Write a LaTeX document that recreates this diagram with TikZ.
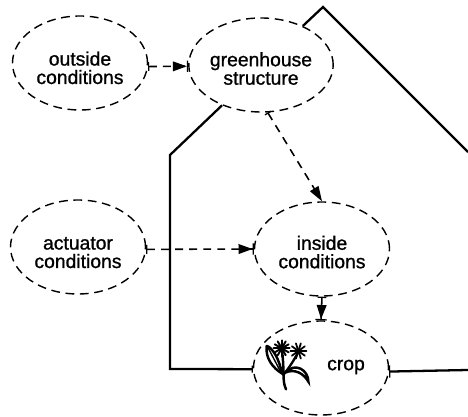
\documentclass[tikz,border=0pt]{standalone}
\usepackage{fontspec}
\setmainfont[RawFeature={embolden=1.0}]{Liberation Sans}
\usetikzlibrary{arrows.meta,shapes.geometric}
\tikzset{
  state/.style={draw, ellipse, line width=0.8pt, dash pattern=on 5pt off 3.2pt,
    minimum width=2.7cm, minimum height=1.88cm, inner sep=0pt, align=center,
    text height=24pt, font=\fontsize{11}{10.5}\selectfont},
  flow/.style={line width=0.9pt, dash pattern=on 4.5pt off 3.5pt,
    arrows={Bar[width=5pt,line width=0.7pt]-{Triangle[length=8pt,width=5.5pt]Bar[width=6.5pt,line width=0.7pt]}}},
  slantflow/.style={flow, arrows={Bar[width=4pt,line width=0.7pt]-{Triangle[length=8.5pt,width=5.5pt]}}},
  wall/.style={line width=1.3pt, line join=miter}
}
\begin{document}
\begin{tikzpicture}
\useasboundingbox (0,0) rectangle (9.36,8.32);
\node[state] (outside) at (1.6,7.06) {outside\\conditions};
\node[state, text height=22.5pt] (house) at (5.22,7.02) {greenhouse\\structure};
\node[state] (actuator) at (1.56,3.38) {actuator\\conditions};
\node[state, text height=22pt] (inside) at (6.44,3.34) {inside\\conditions};
\node[state] (crop) at (6.42,0.96) {};
\node[font=\fontsize{11}{10.5}\selectfont] (croplabel) at (6.92,0.98) {crop};

\coordinate (roof) at (6.46,8.18);
\coordinate (roofend) at (9.36,5.28);
\coordinate (eave) at (3.4,5.22);
\coordinate (floor) at (3.4,0.94);
\coordinate (rightend) at (9.36,0.92);

\draw[wall] (house.43) -- (roof) -- (roofend);
\draw[wall, -{Bar[width=4pt,line width=0.7pt]}] (house.226) -- (eave) -- (floor) -- (crop.181);
\draw[wall, {Bar[width=7pt,line width=0.7pt]}-] (crop.-3) -- (rightend);

\draw[flow] (outside.-3) -- (house.181);
\draw[slantflow] (house.278) -- (inside.north);
\draw[flow] (actuator.-2) -- (inside.west);
\draw[flow] (inside.south) -- (crop.north);

% plant
\begin{scope}[x=0.00667cm, y=-0.00667cm, shift={(690,-408)}, line cap=round]
\draw[line width=1.4pt] (168,328) .. controls (155,300) and (165,280) .. (155,205);
\draw[line width=1.3pt] (160,285) .. controls (175,265) and (190,245) .. (205,215);
\draw[line width=1.4pt, fill=white] (110,198) .. controls (125,200) and (150,240) .. (155,280)
  .. controls (130,265) and (105,235) .. (110,198);
\draw[line width=0.8pt] (115,205) -- (150,272);
\draw[line width=1.4pt] (165,278) .. controls (195,245) and (235,270) .. (235,305)
  .. controls (220,280) and (195,265) .. (165,278);
\foreach \a in {0,30,...,330} \draw[line width=1.1pt] (155,205) -- +(\a:24);
\fill (155,205) circle (11);
\foreach \a in {0,36,...,324} \draw[line width=1pt] (205,213) -- +(\a:24);
\fill (205,213) circle (7);
\end{scope}
\end{tikzpicture}
\end{document}
